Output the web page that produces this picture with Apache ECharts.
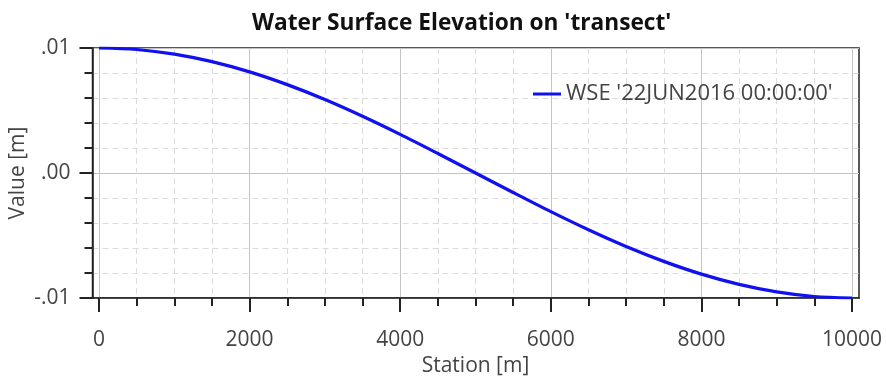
<!DOCTYPE html>
<html><head><meta charset="utf-8">
<script src="https://cdn.jsdelivr.net/npm/echarts@6/dist/echarts.min.js"></script>
<style>html,body{margin:0;padding:0;background:#fff}#c{width:886px;height:380px}</style>
</head><body><div id="c"></div>
<script>
const stations = [0,500,1000,1500,2000,2500,3000,3500,4000,4500,5000,5500,6000,6500,7000,7500,8000,8500,9000,9500,10000];
const wse = [0.0100,0.00988,0.00951,0.00891,0.00809,0.00707,0.00588,0.00454,0.00309,0.00156,0.0000,-0.00156,-0.00309,-0.00454,-0.00588,-0.00707,-0.00809,-0.00891,-0.00951,-0.00988,-0.0100];
const seriesName = "WSE '22JUN2016 00:00:00'";
const titleText = "Water Surface Elevation on 'transect'";
const xName = "Station [m]";
const yName = "Value [m]";

const FONT = "Open Sans";
const chart = echarts.init(document.getElementById('c'), null, {renderer:'canvas'});
const gridL = 92.5, gridR = 886-859, gridT = 48, gridB = 380-298;
chart.setOption({
  animation:false,
  title:{text:titleText,left:247,top:7,textStyle:{fontFamily:FONT,fontWeight:'bold',fontSize:22.7,color:'#111'}},
  legend:{data:[{name:seriesName,icon:'rect'}],left:528,top:78,itemWidth:28,itemHeight:3,itemGap:8,
    textStyle:{fontFamily:FONT,fontSize:22,color:'#444'}},
  graphic:[{type:'text',x:18,y:173,rotation:Math.PI/2,
    style:{text:yName,font:'21px "Open Sans"',fill:'#444',align:'center',verticalAlign:'middle'}}],
  grid:[
    {left:gridL,right:gridR,top:gridT,bottom:gridB,show:true,borderColor:'#222',borderWidth:1.5,containLabel:false,outerBoundsMode:'none'},
    {left:99,right:886-852,top:gridT,bottom:gridB,containLabel:false,outerBoundsMode:'none'}
  ],
  xAxis:[
    {gridIndex:0,type:'value',min:0,max:1,axisLine:{show:true,onZero:false,lineStyle:{color:'#222',width:1.5}},
     axisTick:{show:false},axisLabel:{show:false},splitLine:{show:false}},
    {gridIndex:1,type:'value',min:0,max:10000,interval:2000,position:'bottom',
     name:xName,nameLocation:'middle',nameGap:58,nameTextStyle:{fontFamily:FONT,fontSize:21,color:'#444'},
     axisLine:{show:false,onZero:false},
     axisTick:{show:true,length:14,lineStyle:{color:'#222',width:2}},
     minorTick:{show:true,splitNumber:4,length:8,lineStyle:{color:'#222',width:2}},
     axisLabel:{fontFamily:FONT,fontSize:21,color:'#444',margin:32,formatter:v=>String(v)},
     splitLine:{show:true,lineStyle:{color:'#c4c4c4',width:1}},
     minorSplitLine:{show:true,lineStyle:{color:'#dcdcdc',width:1,type:[6,4]}}}
  ],
  yAxis:[
    {gridIndex:0,type:'value',min:-0.01,max:0.01,interval:0.01,
     axisLine:{show:true,onZero:false,lineStyle:{color:'#222',width:1.5}},
     axisTick:{show:true,length:13,lineStyle:{color:'#222',width:2}},
     minorTick:{show:true,splitNumber:5,length:8,lineStyle:{color:'#222',width:2}},
     axisLabel:{fontFamily:FONT,fontSize:21,color:'#444',margin:22,
       formatter:v=>{ if(Math.abs(v)<1e-12) return '.00'; return (v<0?'-':'')+'.'+String(Math.round(Math.abs(v)*100)).padStart(2,'0'); }},
     splitLine:{show:true,lineStyle:{color:'#c4c4c4',width:1}},
     minorSplitLine:{show:true,lineStyle:{color:'#dcdcdc',width:1,type:[6,4]}}},
    {gridIndex:1,type:'value',min:-0.01,max:0.01,show:false,axisLine:{onZero:false},splitLine:{show:false}}
  ],
  series:[{name:seriesName,type:'line',xAxisIndex:1,yAxisIndex:1,smooth:0.3,showSymbol:false,symbol:'none',
    data:stations.map((s,i)=>[s,wse[i]]),lineStyle:{color:'#1010f0',width:3.2},itemStyle:{color:'#1010f0'},z:5}]
});
</script></body></html>
